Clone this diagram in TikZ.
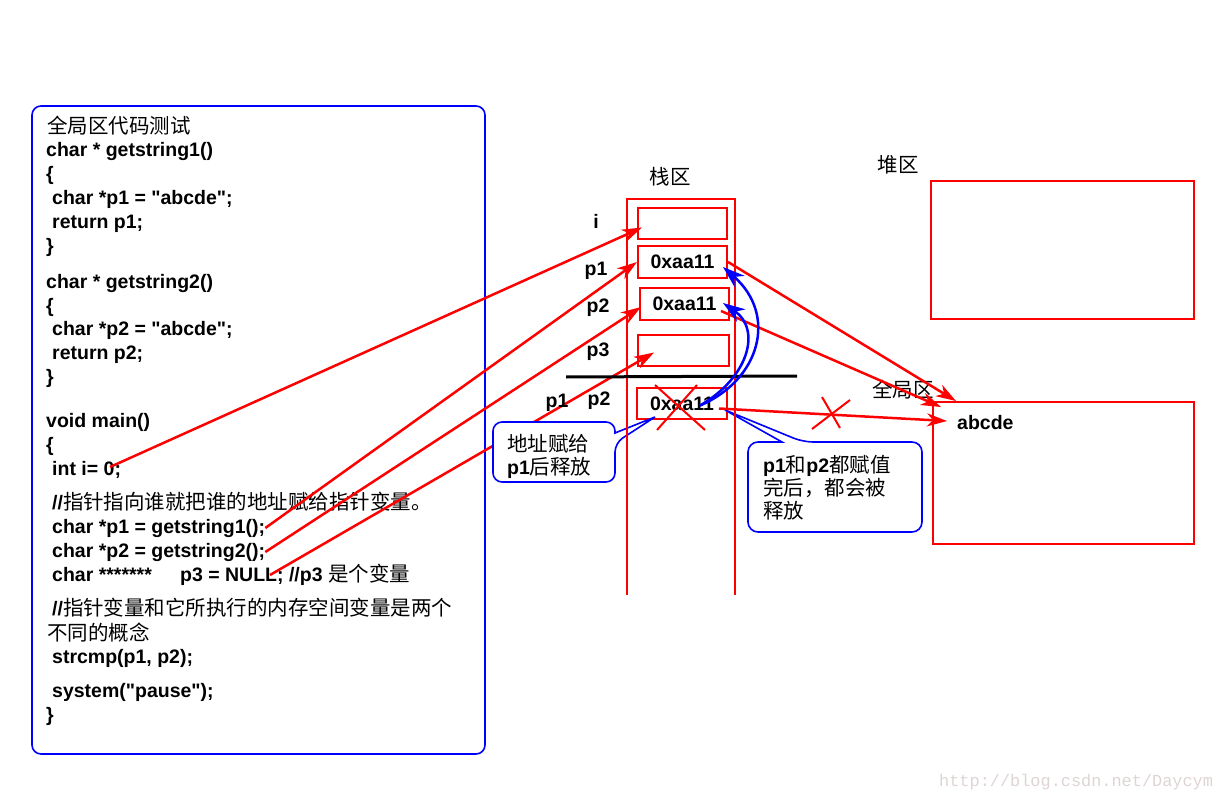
\documentclass[tikz,border=0pt]{standalone}
\usepackage{fontspec}
\setmainfont{Liberation Sans}
\setmonofont{Liberation Mono}
\newfontfamily\arial{Liberation Sans}
\newfontfamily\hanzi{Noto Sans CJK SC}[Scale=1.05]
\newcommand{\zh}[1]{{\hanzi\mdseries #1}}
\usetikzlibrary{arrows.meta}
\definecolor{stamp}{RGB}{222,212,212}
\tikzset{
    code/.style={anchor=base west, inner sep=0pt, font=\arial\fontsize{19.5}{24}\selectfont\bfseries},
    lbl/.style={inner sep=0pt, font=\arial\fontsize{19.5}{24}\selectfont\bfseries},
    cell/.style={draw=red, line width=2pt, minimum width=89pt, minimum height=31pt, inner sep=0pt, font=\arial\fontsize{19.5}{24}\selectfont\bfseries},
    area/.style={draw=red, line width=2pt, inner sep=0pt},
    redline/.style={red, line width=2pt},
    ptr/.style={red, line width=2.5pt, -{Stealth[length=20pt,width=13pt,inset=6pt]}},
    back/.style={blue, line width=2.5pt, -{Stealth[length=22pt,width=15pt,inset=7pt]}},
    callout/.style={draw=blue, line width=1.6pt, fill=white},
    note/.style={inner sep=0pt, align=left, font=\arial\fontsize{19.5}{23}\selectfont\bfseries},
}

\begin{document}
\begin{tikzpicture}[x=1pt,y=-1pt]
            \useasboundingbox (0,0) rectangle (1217,802);
            \draw[blue, line width=1.6pt, rounded corners=9pt] (32,106) rectangle (485,754);
            \node[code] (c1) at (47,134) {\zh{全局区代码测试}};
            \node[code] (c2) at (46,157) {char * getstring1()};
            \node[code] (c3) at (46,181) {\{};
            \node[code] (c4) at (52,205) {char *p1 = "abcde";};
            \node[code] (c5) at (52,229) {return p1;};
            \node[code] (c6) at (46,253) {\}};
            \node[code] (c7) at (46,288) {char * getstring2()};
            \node[code] (c8) at (46,312) {\{};
            \node[code] (c9) at (52,335) {char *p2 = "abcde";};
            \node[code] (c10) at (52,359) {return p2;};
            \node[code] (c11) at (46,383) {\}};
            \node[code] (c12) at (46,427) {void main()};
            \node[code] (c13) at (46,451) {\{};
            \node[code] (c14) at (52,475) {int i= 0;};
            \node[code] (c15) at (52,509) {//\zh{指针指向谁就把谁的地址赋给指针变量。}};
            \node[code] (c16) at (52,533) {char *p1 = getstring1();};
            \node[code] (c17) at (52,557) {char *p2 = getstring2();};
            \node[code] (c18) at (52,581) {char *******};
            \node[code] (c18p3) at (180,581) {p3 = NULL; //p3 \zh{是个变量}};
            \node[code] (c19) at (52,615) {//\zh{指针变量和它所执行的内存空间变量是两个}};
            \node[code] (c20) at (47,640) {\zh{不同的概念}};
            \node[code] (c21) at (52,663) {strcmp(p1, p2);};
            \node[code] (c22) at (52,697) {system("pause");};
            \node[code] (c23) at (46,721) {\}};
            \node[cell] (si) at (682.5,223.5) {};
            \node[cell, minimum height=32pt] (sp1) at (682.5,262) {0xaa11};
            \node[cell, minimum height=32pt] (sp2) at (684.5,304) {0xaa11};
            \node[cell, minimum width=91pt] (sp3) at (683.5,350.5) {};
            \node[cell, minimum width=90pt] (sq) at (682,403.5) {0xaa11};
            \node[area, minimum width=263pt, minimum height=138pt] (heap) at (1062.5,250) {};
            \node[area, minimum width=261pt, minimum height=142pt] (glob) at (1063.5,473) {};
            \node[lbl, anchor=west] (str) at (957,423) {abcde};
            \coordinate (ci) at (110,467);
            \coordinate (cn) at (270,575);
            \draw[ptr] (ci) -- ([shift={(5,4)}]si.west);
            \draw[ptr] (c16.east) -- (sp1.west);
            \draw[ptr] (c17.east) -- ([shift={(2,3)}]sp2.west);
            \draw[ptr] (cn) -- ([shift={(17,2)}]sp3.west);
            \draw[callout, rounded corners=9pt] (655,417) -- (615,443) -- (615,482) -- (493,482) -- (493,422) -- (615,422) [sharp corners] -- (615,433) -- cycle;
            \draw[callout, rounded corners=10pt] (725,410) -- (803,442) -- (922,442) -- (922,532) -- (748,532) -- (748,442) [sharp corners] -- (782,442) -- cycle;
            \node[note, anchor=west] (n1) at (507,456) {\zh{地址赋给}\\p1\zh{后释放}};
            \node[note, anchor=west] (n2) at (763,488) {p1\zh{和}p2\zh{都赋值}\\\zh{完后，都会被}\\\zh{释放}};
            \draw[redline] (627,595) -- (627,199) -- (735,199) -- (735,595);
            \draw[line width=3pt] (566,377) -- (797,376);
            \node[lbl] (stk) at (670,177) {\zh{栈区}};
            \node[lbl] (hp) at (898,165) {\zh{堆区}};
            \node[lbl] (gl) at (903,390) {\zh{全局区}};
            \node[lbl] (li) at (596,221) {i};
            \node[lbl] (lp1) at (596,271) {p1};
            \node[lbl] (lp2) at (598,308) {p2};
            \node[lbl] (lp3) at (598,352) {p3};
            \node[lbl] (lq1) at (557,403) {p1};
            \node[lbl] (lq2) at (599,401) {p2};
            \draw[ptr] (sp1.east) -- ([xshift=24pt]glob.north west);
            \draw[ptr] ([shift={(-9,7)}]sp2.east) -- ([shift={(9,6)}]glob.north west);
            \draw[ptr] ([shift={(-9,5)}]sq.east) -- ([shift={(15,20)}]glob.north west);
            \draw[back] ([shift={(18,2)}]sq.center) .. controls (760,380) and (778,315) .. ([shift={(-5,5)}]sp1.east);
            \draw[back] ([shift={(18,2)}]sq.center) .. controls (748,378) and (762,330) .. ([shift={(-7,-1)}]sp2.east);
            \draw[redline] (655,385) -- (705,430) (697,385) -- (657,430);
            \draw[redline] (812,429) -- (850,400) (822,397) -- (840,428);
            \node[anchor=west, inner sep=0pt, text=stamp, font=\fontsize{16.9}{20}\selectfont\ttfamily] (wm) at (939,782) {http://blog.csdn.net/Daycym};
\end{tikzpicture}
\end{document}
